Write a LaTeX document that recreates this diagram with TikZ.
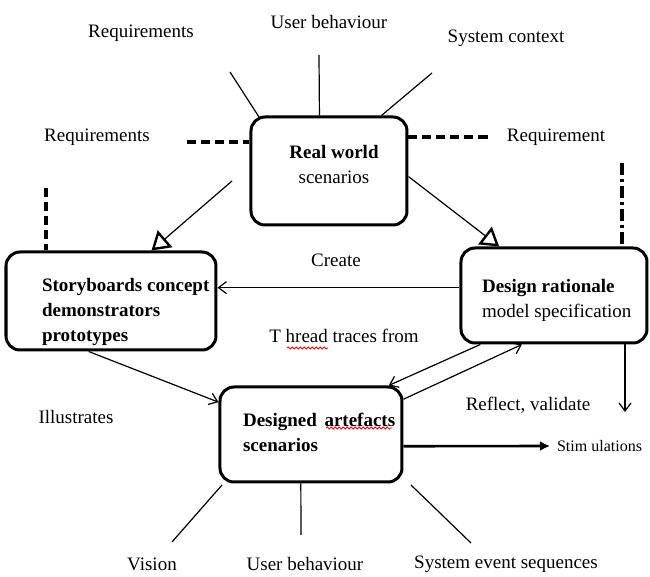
\documentclass[tikz,border=0pt]{standalone}
\usepackage{fontspec}
\setmainfont{Liberation Serif}
\usetikzlibrary{arrows.meta,calc,decorations.pathmorphing}
\tikzset{
  box/.style={draw, line width=1.5pt, rounded corners=7pt},
  spoke/.style={line width=0.6pt},
  dashln/.style={line width=1.7pt, dash pattern=on 4.5pt off 2.5pt},
  tri/.style={line width=0.6pt, -{Triangle[open,length=9pt,width=11pt,line width=1.2pt]}},
  arr/.style={line width=0.6pt, -{Straight Barb[length=4pt,width=6pt]}},
  wavy/.style={red, line width=0.4pt, decorate, decoration={snake,amplitude=0.5pt,segment length=2pt}}
}

\begin{document}
\begin{tikzpicture}[x=0.5pt,y=-0.5pt,font=\fontsize{9.5}{12.5}\selectfont]
\useasboundingbox (0,0) rectangle (650,577);

% the four boxes
\node[box, minimum width=78pt, minimum height=54pt] (rw) at (329,171) {};
\node[align=center] (rwtxt) at (334,165) {\textbf{Real world}\\scenarios};

\node[box, minimum width=105pt, minimum height=49pt] (sb) at (111,301) {};
\node[align=left, anchor=west] (sbtxt) at (35,312) {\textbf{Storyboards concept}\\\textbf{demonstrators}\\\textbf{prototypes}};

\node[box, minimum width=93pt, minimum height=47.5pt] (dr) at (554,295.5) {};
\node[align=left, anchor=west] (drtxt) at (475,300) {\textbf{Design rationale}\\model specification};

\node[box, minimum width=91pt, minimum height=47.5pt] (da) at (311,434.5) {};
\node[align=left, anchor=west] (datxt) at (236,432.5) {\textbf{Designed\hspace{0.4em}artefacts}\\\textbf{scenarios}};

% labels round the top box
\node (req1) at (141,33) {Requirements};
\node (ub1) at (329,22) {User behaviour};
\node (sc) at (506,38) {System context};
\node (req2) at (97,137) {Requirements};
\node (req3) at (556,137) {Requirement};

% spokes of the top box
\coordinate (s1) at (230,72);
\coordinate (s2) at (319,55);
\coordinate (s3) at (432,73);
\draw[spoke] (s1) -- (259,117);
\draw[spoke] (s2) -- ($(rw.north west)!0.44!(rw.north east)$);
\draw[spoke] (s3) -- ($(rw.north west)!0.83!(rw.north east)$);

% dashed requirement lines
\coordinate (d1) at (187,142);
\coordinate (d2) at (490,137);
\draw[dashln] (d1) -- (d1 -| rw.west);
\draw[dashln] (d2 -| rw.east) -- (d2);
\coordinate (d3) at (46,188);
\draw[dashln] (d3) -- (d3 |- sb.north);
\coordinate (d4) at (622,163);
\draw[line width=1.7pt, dash pattern=on 6pt off 2pt on 1.5pt off 2pt] (d4) -- (d4 |- dr.north);

% top box to the two side boxes
\coordinate (rwl) at (232,181);
\draw[tri] (rwl) -- ($(sb.north west)!0.69!(sb.north east)$);
\draw[tri] ($(rw.north east)!0.55!(rw.south east)$) -- ($(dr.north west)!0.21!(dr.north east)$);

% create
\draw[arr] ($(dr.north west)!0.42!(dr.south west)$) coordinate (cr) -- (cr -| sb.east);
\node (create) at (336,260) {Create};

% thread traces
\node (thr) at (344,336) {T hread traces from};
\draw[wavy] (287,348) -- (328,348);
\draw[arr] ($(dr.south west)!0.11!(dr.south east)$) -- ($(da.north west)!0.92!(da.north east)$);
\draw[arr] ($(da.north east)!0.14!(da.south east)$) -- ($(dr.south west)!0.33!(dr.south east)$);

% illustrates
\node (ill) at (76,417) {Illustrates};
\draw[arr] ($(sb.south west)!0.395!(sb.south east)$) -- ($(da.north west)!0.17!(da.south west)$);
\draw[wavy] (326,428) -- (392,428);

% reflect, validate
\node (rv) at (528,405) {Reflect, validate};
\coordinate (rvend) at (625,412);
\draw[arr] (rvend |- dr.south) -- (rvend);

% stimulations
\node[anchor=west, font=\fontsize{8}{10}\selectfont] (stim) at (550,446) {Stim ulations};
\draw[line width=1.3pt, -{Latex[length=5pt,width=5pt]}] ($(da.north east)!0.62!(da.south east)$) -- (stim.west);

% spokes of the bottom box
\node (vis) at (152,564) {Vision};
\node (ub2) at (305,564) {User behaviour};
\node (ses) at (506,564) {System event sequences};
\coordinate (b1) at (172,542);
\coordinate (b2) at (301,535);
\coordinate (b3) at (471,543);
\draw[spoke] (222,485) -- (b1);
\draw[spoke] ($(da.south west)!0.445!(da.south east)$) -- (b2);
\draw[spoke] (411,485) -- (b3);

\end{tikzpicture}
\end{document}
